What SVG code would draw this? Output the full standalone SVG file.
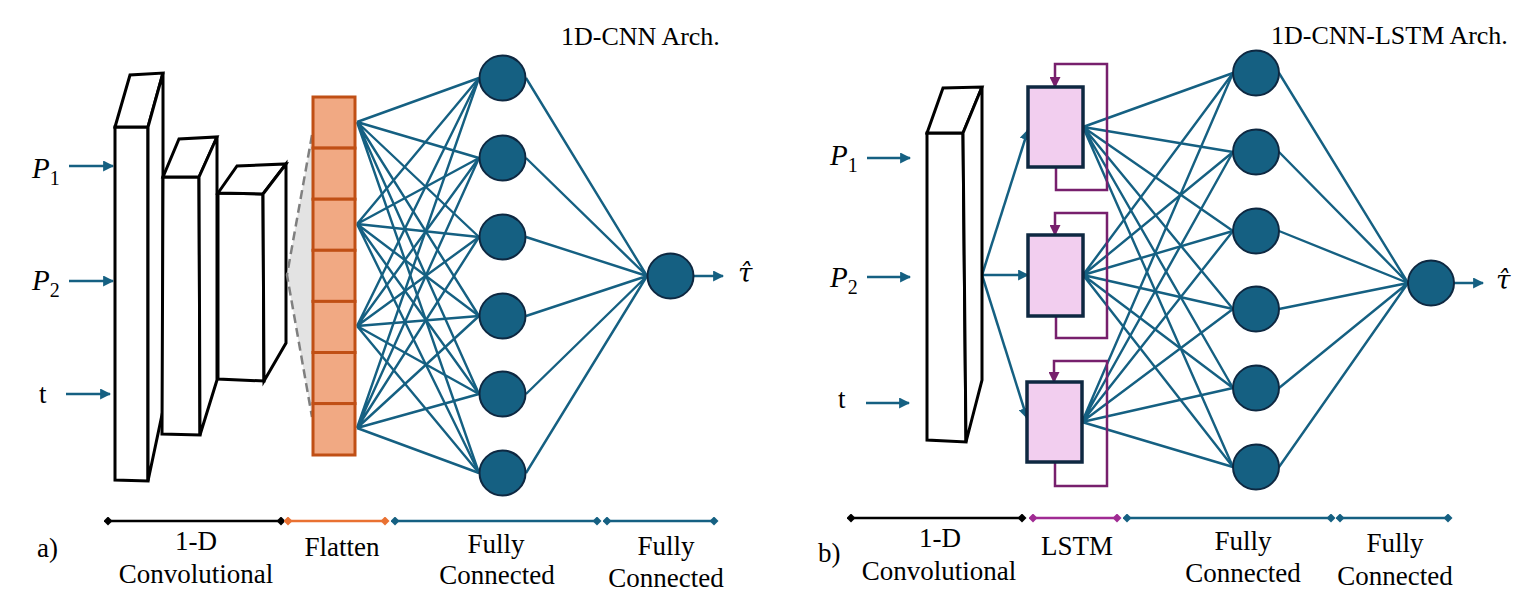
<svg xmlns="http://www.w3.org/2000/svg" width="1535" height="607" viewBox="0 0 1535 607">
<style>
.blk{fill:#fff;stroke:#000;stroke-width:3;stroke-linejoin:miter}
.cell{fill:#F1A983;stroke:#C04F15;stroke-width:3}
.w{stroke:#156082;stroke-width:2.4;fill:none}
.arr{stroke:#156082;stroke-width:2.5;fill:none;marker-end:url(#ab)}
.neu{fill:#156082;stroke:#0E2841;stroke-width:2}
.lstm{fill:#F2CEEF;stroke:#0E2841;stroke-width:3.5}
.loop{stroke:#77206D;stroke-width:2.5;fill:none;marker-end:url(#ap)}
text{font-family:'Liberation Serif','DejaVu Serif',serif}
.t{font-size:27px;fill:#000}
.tm{text-anchor:middle}
.it{font-style:italic;font-size:29px}
.sub{font-style:normal;font-size:20px}
</style>
<defs>
<marker id="ab" viewBox="0 0 10 10" refX="9" refY="5" markerWidth="4.4" markerHeight="4.4" orient="auto" markerUnits="strokeWidth"><path d="M0,0 L10,5 L0,10 Z" fill="#156082"/></marker>
<marker id="ap" viewBox="0 0 10 10" refX="9" refY="5" markerWidth="4.4" markerHeight="4.4" orient="auto" markerUnits="strokeWidth"><path d="M0,0 L10,5 L0,10 Z" fill="#77206D"/></marker>
<marker id="dk" viewBox="0 0 10 10" refX="5" refY="5" markerWidth="3.6" markerHeight="3.6" orient="auto" markerUnits="strokeWidth"><path d="M0,5 L5,0 L10,5 L5,10 Z" fill="#000"/></marker>
<marker id="do" viewBox="0 0 10 10" refX="5" refY="5" markerWidth="3.6" markerHeight="3.6" orient="auto" markerUnits="strokeWidth"><path d="M0,5 L5,0 L10,5 L5,10 Z" fill="#E97132"/></marker>
<marker id="db" viewBox="0 0 10 10" refX="5" refY="5" markerWidth="3.6" markerHeight="3.6" orient="auto" markerUnits="strokeWidth"><path d="M0,5 L5,0 L10,5 L5,10 Z" fill="#156082"/></marker>
<marker id="dp" viewBox="0 0 10 10" refX="5" refY="5" markerWidth="3.6" markerHeight="3.6" orient="auto" markerUnits="strokeWidth"><path d="M0,5 L5,0 L10,5 L5,10 Z" fill="#A02B93"/></marker>
</defs>
<rect width="1535" height="607" fill="#fff"/>

<!-- titles -->
<text class="t" x="561" y="45" font-family="Liberation Serif, DejaVu Serif, serif" style="font-size:26px">1D-CNN Arch.</text>
<text class="t" x="1271" y="44" font-family="Liberation Serif, DejaVu Serif, serif" style="font-size:26px">1D-CNN-LSTM Arch.</text>

<!-- connectors -->
<g id="connectors">
 <g class="w">
  <path d="M357,122 L479,78 M357,122 L479,158 M357,122 L479,237 M357,122 L479,316 M357,122 L479,394 M357,122 L479,473"/>
  <path d="M357,224 L479,78 M357,224 L479,158 M357,224 L479,237 M357,224 L479,316 M357,224 L479,394 M357,224 L479,473"/>
  <path d="M357,326 L479,78 M357,326 L479,158 M357,326 L479,237 M357,326 L479,316 M357,326 L479,394 M357,326 L479,473"/>
  <path d="M357,428 L479,78 M357,428 L479,158 M357,428 L479,237 M357,428 L479,316 M357,428 L479,394 M357,428 L479,473"/>
  <path d="M526,78 L647,276 M526,158 L647,276 M526,237 L647,276 M526,316 L647,276 M526,394 L647,276 M526,473 L647,276"/>
 </g>
 <g class="w">
  <path d="M1083,127 L1233,73 M1083,127 L1233,152 M1083,127 L1233,231 M1083,127 L1233,309 M1083,127 L1233,388 M1083,127 L1233,467"/>
  <path d="M1083,275 L1233,73 M1083,275 L1233,152 M1083,275 L1233,231 M1083,275 L1233,309 M1083,275 L1233,388 M1083,275 L1233,467"/>
  <path d="M1082,422 L1233,73 M1082,422 L1233,152 M1082,422 L1233,231 M1082,422 L1233,309 M1082,422 L1233,388 M1082,422 L1233,467"/>
  <path d="M1279,73 L1408,283 M1279,152 L1408,283 M1279,231 L1408,283 M1279,309 L1408,283 M1279,388 L1408,283 M1279,467 L1408,283"/>
 </g>
 <line class="arr" x1="69" y1="166" x2="113" y2="166"/>
 <line class="arr" x1="69" y1="281" x2="113" y2="281"/>
 <line class="arr" x1="66" y1="394" x2="110" y2="394"/>
 <line class="arr" x1="867" y1="158" x2="910" y2="158"/>
 <line class="arr" x1="867" y1="277" x2="910" y2="277"/>
 <line class="arr" x1="866" y1="403" x2="909" y2="403"/>
 <line class="arr" x1="982" y1="275" x2="1028" y2="130"/>
 <line class="arr" x1="982" y1="275" x2="1028" y2="275"/>
 <line class="arr" x1="982" y1="275" x2="1027" y2="418"/>
 <line class="arr" x1="694" y1="276" x2="723" y2="276"/>
 <line class="arr" x1="1454" y1="283" x2="1483" y2="283"/>
 <path class="loop" d="M1056,167 V190 H1107 V64 H1055 V87"/>
 <path class="loop" d="M1056,316 V338 H1107 V213 H1055 V235"/>
 <path class="loop" d="M1055,462 V486 H1107 V361 H1054 V382"/>
</g>

<g id="conv1a">
 <polygon class="blk" points="115,127 148,127 148,481 115,480"/>
 <polygon class="blk" points="115,127 130,75 163,73 148,127"/>
 <polygon class="blk" points="148,127 163,73 163,410 148,481"/>
</g>
<g id="conv2a">
 <polygon class="blk" points="163,177 199,177 200,435 162,434"/>
 <polygon class="blk" points="163,177 179,139 217,137 199,177"/>
 <polygon class="blk" points="199,177 217,137 217,380 200,435"/>
</g>
<g id="conv3a">
 <polygon class="blk" points="218,193 263,194 264,381 218,379"/>
 <polygon class="blk" points="218,193 237,166 286,164 263,194"/>
 <polygon class="blk" points="263,194 286,164 286,343 264,381"/>
</g>

<g id="projection">
 <polygon points="312,135 287,275 312,417" fill="#e3e3e3"/>
 <polyline points="312,135 287,275 312,417" fill="none" stroke="#7f7f7f" stroke-width="2.5" stroke-dasharray="9,5"/>
</g>

<g id="flatten">
 <rect class="cell" x="313" y="97" width="42" height="51.1"/>
 <rect class="cell" x="313" y="148.1" width="42" height="51.1"/>
 <rect class="cell" x="313" y="199.2" width="42" height="51.1"/>
 <rect class="cell" x="313" y="250.3" width="42" height="51.1"/>
 <rect class="cell" x="313" y="301.4" width="42" height="51.1"/>
 <rect class="cell" x="313" y="352.5" width="42" height="51.1"/>
 <rect class="cell" x="313" y="403.6" width="42" height="51.4"/>
</g>

<g id="hiddenA">
 <ellipse class="neu" cx="502.5" cy="78" rx="23" ry="22.5"/>
 <ellipse class="neu" cx="502.5" cy="158" rx="23" ry="22.5"/>
 <ellipse class="neu" cx="502.5" cy="237" rx="23" ry="22.5"/>
 <ellipse class="neu" cx="502.5" cy="316" rx="23" ry="22.5"/>
 <ellipse class="neu" cx="502.5" cy="394" rx="23" ry="22.5"/>
 <ellipse class="neu" cx="502.5" cy="473" rx="23" ry="22.5"/>
</g>
<g id="outA"><ellipse class="neu" cx="670.5" cy="276" rx="23" ry="22.5"/></g>

<g id="convb">
 <polygon class="blk" points="927,133 963,133 966,442 927,440"/>
 <polygon class="blk" points="927,133 943,88 982,87 963,133"/>
 <polygon class="blk" points="963,133 982,87 982,380 966,442"/>
</g>

<g id="lstm1"><rect class="lstm" x="1028" y="87" width="55" height="80"/></g>
<g id="lstm2"><rect class="lstm" x="1028" y="235" width="55" height="81"/></g>
<g id="lstm3"><rect class="lstm" x="1027" y="382" width="55" height="80"/></g>

<g id="hiddenB">
 <ellipse class="neu" cx="1256" cy="73" rx="23" ry="22.5"/>
 <ellipse class="neu" cx="1256" cy="152" rx="23" ry="22.5"/>
 <ellipse class="neu" cx="1256" cy="231" rx="23" ry="22.5"/>
 <ellipse class="neu" cx="1256" cy="309" rx="23" ry="22.5"/>
 <ellipse class="neu" cx="1256" cy="388" rx="23" ry="22.5"/>
 <ellipse class="neu" cx="1256" cy="467" rx="23" ry="22.5"/>
</g>
<g id="outB"><ellipse class="neu" cx="1431" cy="283" rx="23" ry="22.5"/></g>

<g id="labels">
 <text class="it" x="32" y="178">P<tspan class="sub" dy="7">1</tspan></text>
 <text class="it" x="32" y="290">P<tspan class="sub" dy="7">2</tspan></text>
 <text class="t" x="39" y="403">t</text>
 <text class="it" x="830" y="165">P<tspan class="sub" dy="7">1</tspan></text>
 <text class="it" x="830" y="287">P<tspan class="sub" dy="7">2</tspan></text>
 <text class="t" x="838" y="408">t</text>
 <text class="it" x="738" y="282" style="font-family:'DejaVu Serif',serif;font-size:26px">τ̂</text>
 <text class="it" x="1496" y="289" style="font-family:'DejaVu Serif',serif;font-size:26px">τ̂</text>
</g>

<g id="scaleA">
 <line x1="108" y1="521" x2="281" y2="521" stroke="#000" stroke-width="2.5" marker-start="url(#dk)" marker-end="url(#dk)"/>
 <line x1="288" y1="521" x2="385" y2="521" stroke="#E97132" stroke-width="2.5" marker-start="url(#do)" marker-end="url(#do)"/>
 <line x1="395" y1="521" x2="597" y2="521" stroke="#156082" stroke-width="2.5" marker-start="url(#db)" marker-end="url(#db)"/>
 <line x1="607" y1="521" x2="714" y2="521" stroke="#156082" stroke-width="2.5" marker-start="url(#db)" marker-end="url(#db)"/>
 <text class="t" x="37" y="557">a)</text>
 <text class="t tm" x="196" y="550">1-D</text>
 <text class="t tm" x="196" y="583">Convolutional</text>
 <text class="t tm" x="342" y="556">Flatten</text>
 <text class="t tm" x="496" y="553">Fully</text>
 <text class="t tm" x="497" y="584">Connected</text>
 <text class="t tm" x="666" y="555">Fully</text>
 <text class="t tm" x="666" y="587">Connected</text>
</g>
<g id="scaleB">
 <line x1="851" y1="518" x2="1022" y2="518" stroke="#000" stroke-width="2.5" marker-start="url(#dk)" marker-end="url(#dk)"/>
 <line x1="1033" y1="518" x2="1117" y2="518" stroke="#A02B93" stroke-width="2.5" marker-start="url(#dp)" marker-end="url(#dp)"/>
 <line x1="1127" y1="518" x2="1331" y2="518" stroke="#156082" stroke-width="2.5" marker-start="url(#db)" marker-end="url(#db)"/>
 <line x1="1340" y1="518" x2="1448" y2="518" stroke="#156082" stroke-width="2.5" marker-start="url(#db)" marker-end="url(#db)"/>
 <text class="t" x="818" y="562">b)</text>
 <text class="t tm" x="940" y="547">1-D</text>
 <text class="t tm" x="939" y="580">Convolutional</text>
 <text class="t tm" x="1077" y="555">LSTM</text>
 <text class="t tm" x="1243" y="550">Fully</text>
 <text class="t tm" x="1243" y="582">Connected</text>
 <text class="t tm" x="1395" y="552">Fully</text>
 <text class="t tm" x="1395" y="585">Connected</text>
</g>
</svg>
